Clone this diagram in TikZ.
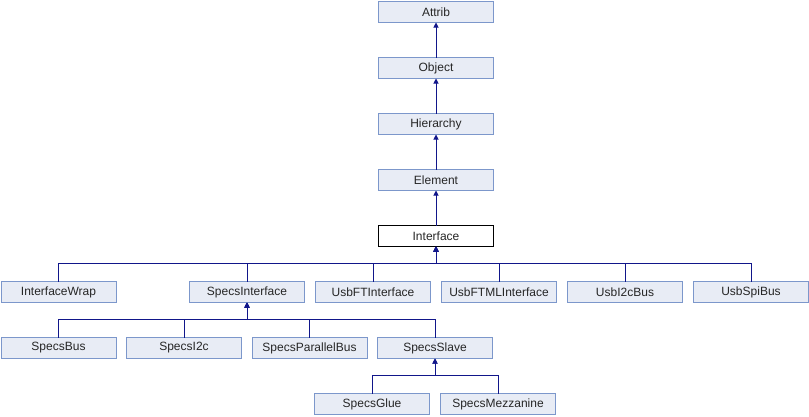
\documentclass[tikz,border=0pt]{standalone}
\usepackage{fontspec}
\setmainfont{Liberation Sans}
\usetikzlibrary{arrows.meta, positioning, calc}
\definecolor{boxfill}{HTML}{E8ECF5}
\definecolor{boxline}{HTML}{7C97CB}
\definecolor{edgeblue}{HTML}{11168A}

\begin{document}
\begin{tikzpicture}[
      node distance=35pt and 11pt, >={Triangle[length=5pt,width=5pt]},
      cls/.style={rectangle, draw=boxline, fill=boxfill, line width=1pt, outer sep=0pt, minimum width=115pt, minimum height=21pt, inner sep=0pt, font=\fontsize{12}{14}\selectfont, text=black!85},
      cur/.style={cls, draw=black, fill=white},
      edge/.style={draw=edgeblue, line width=1pt, ->}
    ]
    \useasboundingbox (0pt,0pt) rectangle (809pt,-416pt);
    % Nodes
    \node[cls] (attrib) at (436pt,-12pt) {Attrib};
    \node[cls, below=of attrib] (object) {Object};
    \node[cls, below=of object] (hier) {Hierarchy};
    \node[cls, below=of hier] (elem) {Element};
    \node[cur, below=of elem] (iface) {Interface};

    \node[cls] (wrap) at (58.5pt,-292pt) {InterfaceWrap};
    \node[cls] (specsif) at (247pt,-292pt) {SpecsInterface};
    \node[cls, right=of specsif] (ftif) {UsbFTInterface};
    \node[cls, right=of ftif] (ftmlif) {UsbFTMLInterface};
    \node[cls, right=of ftmlif] (i2cbus) {UsbI2cBus};
    \node[cls, right=of i2cbus] (spibus) {UsbSpiBus};

    \node[cls, below=of wrap] (sbus) {SpecsBus};
    \node[cls, right=10.5pt of sbus] (si2c) {SpecsI2c};
    \node[cls, right=10.5pt of si2c] (spar) {SpecsParallelBus};
    \node[cls, right=10.5pt of spar] (sslave) {SpecsSlave};

    \node[cls, below=of sslave, xshift=-63pt] (sglue) {SpecsGlue};
    \node[cls, right=of sglue] (smezz) {SpecsMezzanine};

    % Bus points
    \coordinate (busA) at ($(iface.south)+(0,-17pt)$);
    \coordinate (busB) at ($(specsif.south)+(0,-17pt)$);
    \coordinate (busC) at ($(sslave.south)+(0,-17pt)$);

    % Inheritance
    \draw[edge] (object) -- (attrib);
    \draw[edge] (hier) -- (object);
    \draw[edge] (elem) -- (hier);
    \draw[edge] (iface) -- (elem);
    \foreach \c in {wrap, specsif, ftif, ftmlif, i2cbus, spibus}
      \draw[edge] (\c.north) |- (busA) -- (iface.south);
    \foreach \c in {sbus, si2c, spar, sslave}
      \draw[edge] (\c.north) |- (busB) -- (specsif.south);
    \foreach \c in {sglue, smezz}
      \draw[edge] (\c.north) |- (busC) -- (sslave.south);
  \end{tikzpicture}
\end{document}
